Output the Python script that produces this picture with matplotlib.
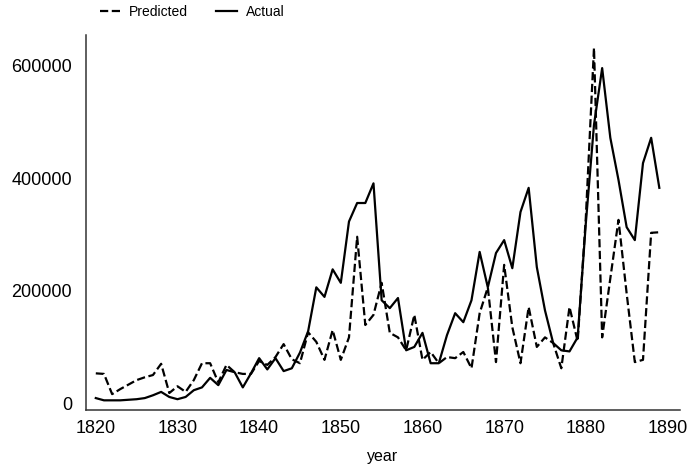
import numpy as np
import matplotlib
matplotlib.use("Agg")
import matplotlib.pyplot as plt

plt.rcParams['font.family'] = ['Liberation Sans', 'DejaVu Sans']

# Anos e valores
anos = list(range(1820, 1890))

previsto = [53000, 52000, 16000, 25000, 33000, 41000, 46000, 50000, 70000, 18000,
            30000, 20000, 41000, 71000, 71000, 37000, 68000, 55000, 52000, 52000,
            75000, 68000, 82000, 105000, 78000, 71000, 126000, 109000, 77000, 130000,
            77000, 117000, 296000, 139000, 157000, 214000, 125000, 117000, 94000, 157000,
            77000, 91000, 71000, 82000, 80000, 91000, 62000, 160000, 206000, 73000,
            246000, 135000, 71000, 171000, 100000, 117000, 107000, 62000, 171000, 110000,
            330000, 632000, 117000, 222000, 326000, 195000, 73000, 77000, 303000, 304000]

real = [9000, 5000, 5000, 5000, 6000, 7000, 9000, 14000, 20000, 11000,
        7000, 11000, 23000, 28000, 45000, 32000, 59000, 55000, 28000, 53000,
        80000, 60000, 80000, 57000, 62000, 90000, 128000, 206000, 189000, 238000,
        214000, 323000, 356000, 356000, 391000, 183000, 169000, 187000, 94000, 100000,
        125000, 71000, 71000, 121000, 160000, 144000, 183000, 269000, 206000, 267000,
        290000, 240000, 340000, 383000, 242000, 165000, 107000, 94000, 92000, 117000,
        320000, 495000, 596000, 472000, 397000, 313000, 290000, 427000, 472000, 383000]

fig = plt.figure(figsize=(6.88, 4.72), dpi=100)
ax = fig.add_axes([0.125, 0.131, 0.863, 0.795])

ax.plot(anos, previsto, color='black', linestyle='--', linewidth=1.6, label='Predicted')
ax.plot(anos, real, color='black', linestyle='-', linewidth=1.6, label='Actual')

ax.set_xlim(1818.8, 1891.5)
ax.set_ylim(-12500, 655000)
ax.set_xticks([1820, 1830, 1840, 1850, 1860, 1870, 1880, 1890])
ax.set_yticks([0, 200000, 400000, 600000])

# Estilo limpo: so eixos esquerdo e inferior
for lado in ['top', 'right']:
    ax.spines[lado].set_visible(False)
for lado in ['left', 'bottom']:
    ax.spines[lado].set_color('#333333')
    ax.spines[lado].set_linewidth(1.1)

ax.tick_params(axis='y', length=0, pad=10, labelsize=13)
ax.tick_params(axis='x', length=0, pad=7, labelsize=13)
ax.set_xlabel('year', fontsize=11.5, labelpad=9)

fig.legend(loc='center left', bbox_to_anchor=(0.137, 0.975), ncol=2,
           frameon=False, fontsize=10, handlelength=1.5, handletextpad=0.6,
           columnspacing=2.05, borderaxespad=0)

plt.savefig('out.png', dpi=100)
